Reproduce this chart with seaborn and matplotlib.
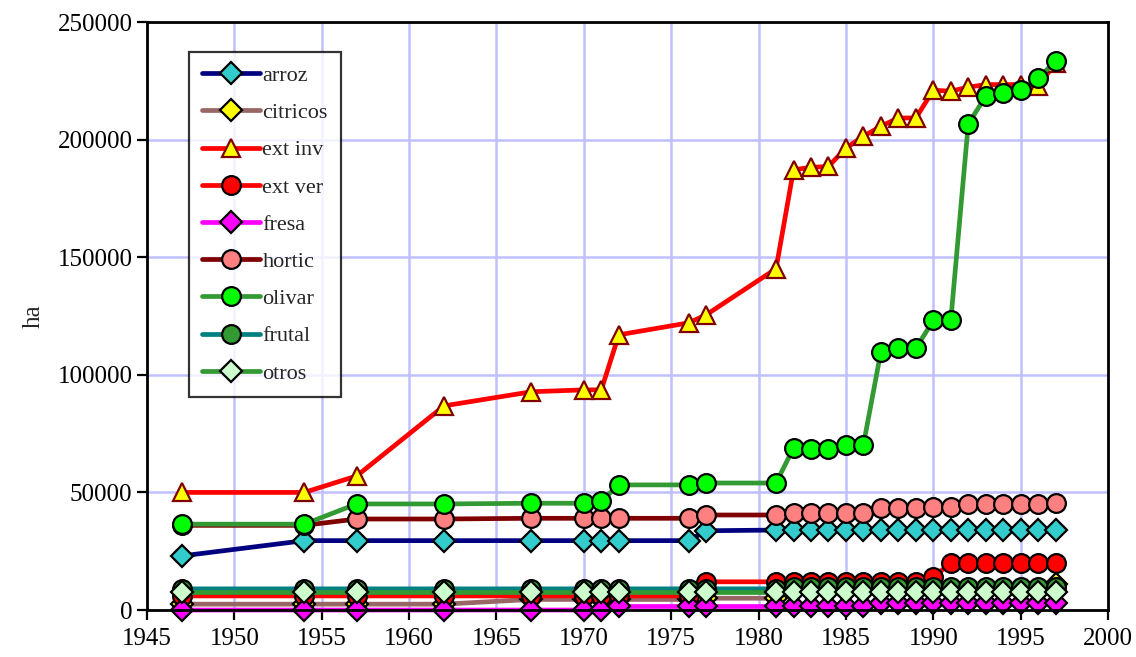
import seaborn as sns
import matplotlib.pyplot as plt

years = [1947, 1954, 1957, 1962, 1967, 1970, 1971, 1972, 1976, 1977, 1981,
         1982, 1983, 1984, 1985, 1986, 1987, 1988, 1989, 1990, 1991, 1992,
         1993, 1994, 1995, 1996, 1997]

arroz = [23000, 29500, 29500, 29500, 29500, 29500, 29500, 29500, 29500, 33700, 34000,
         34000, 34000, 34000, 34000, 34000, 34000, 34000, 34000, 34000, 34000, 34000,
         34000, 34000, 34000, 34000, 34000]
citricos = [2500, 2500, 2500, 2500, 4500, 4500, 4500, 4500, 4500, 5000, 5000,
            8000, 8000, 8000, 8000, 8000, 8000, 8000, 8000, 8000, 8000, 8000,
            8000, 8000, 8000, 8000, 11000]
ext_inv = [50000, 50000, 57000, 86800, 92800, 93600, 93600, 117000, 122100, 125500, 145100,
           187200, 188200, 188600, 196400, 201400, 205700, 209200, 209200, 221000, 220600, 222300,
           223400, 223400, 223400, 222800, 232600]
ext_ver = [6000, 6000, 6000, 6000, 6000, 6000, 6000, 6000, 6000, 12000, 12000,
           12000, 12000, 12000, 12000, 12000, 12000, 12000, 12000, 14000, 20000, 20000,
           20000, 20000, 20000, 20000, 20000]
fresa = [0, 0, 0, 0, 0, 0, 0, 1500, 1500, 1500, 1500,
         1500, 1500, 1500, 1500, 1500, 3000, 3000, 3000, 3000, 3000, 3000,
         3000, 3000, 3000, 3000, 3000]
hortic = [36000, 36000, 38700, 38700, 39000, 39000, 39000, 39000, 39000, 40400, 40400,
          41400, 41400, 41400, 41400, 41400, 43300, 43300, 43300, 43700, 43700, 45100,
          45100, 45100, 45100, 45100, 45400]
olivar = [36500, 36500, 45100, 45100, 45400, 45400, 46400, 53200, 53200, 54000, 54000,
          68900, 68400, 68400, 70200, 70200, 109900, 111300, 111300, 123100, 123100, 206700,
          218400, 219800, 221300, 226200, 233300]
frutal = [9000, 9000, 9000, 9000, 9000, 9000, 9000, 9000, 9000, 9000, 9000,
          10000, 10000, 10000, 10000, 10000, 10000, 10000, 10000, 10000, 10000, 10000,
          10000, 10000, 10000, 10000, 10000]
otros = [7500, 7500, 7500, 7500, 7500, 7500, 7500, 7500, 7500, 7500, 7500,
         7500, 7500, 7500, 7500, 7500, 7500, 7500, 7500, 7500, 7500, 7500,
         7500, 7500, 7500, 7500, 7500]

# name, values, line colour, marker, marker fill, marker edge
series = [
    ("arroz", arroz, "#000080", "D", "#33cccc", "black"),
    ("citricos", citricos, "#996666", "D", "#ffff00", "black"),
    ("ext inv", ext_inv, "#ff0000", "^", "#ffff00", "#800000"),
    ("ext ver", ext_ver, "#ff0000", "o", "#ff0000", "black"),
    ("fresa", fresa, "#ff00ff", "D", "#ff00ff", "black"),
    ("hortic", hortic, "#800000", "o", "#ff8080", "black"),
    ("olivar", olivar, "#339933", "o", "#00ff00", "black"),
    ("frutal", frutal, "#008080", "o", "#339933", "black"),
    ("otros", otros, "#339933", "D", "#ccffcc", "black"),
]

sns.set_style("white")
plt.rcParams['font.family'] = ['Liberation Serif', 'DejaVu Serif']

fig = plt.figure(figsize=(11.36, 6.57), dpi=100)
ax = fig.add_axes([0.1294, 0.0715, 0.8460, 0.8950])

for name, vals, lc, mk, mfc, mec in series:
    size = 11 if mk == "D" else 13.5
    sns.lineplot(x=years, y=vals, ax=ax, color=lc, linewidth=3.4, marker=mk,
                 markersize=size, markerfacecolor=mfc, markeredgecolor=mec,
                 markeredgewidth=1.6, label=name, clip_on=False)

ax.set_xlim(1945, 2000)
ax.set_ylim(0, 250000)
ax.set_xticks(range(1945, 2001, 5))
ax.set_yticks(range(0, 250001, 50000))
ax.grid(True, color="#c0c0ff", linewidth=1.8)
ax.set_axisbelow(True)
for sp in ax.spines.values():
    sp.set_color("black")
    sp.set_linewidth(2)
ax.tick_params(axis="both", direction="out", length=7, width=1.6, colors="black",
               labelsize=18, left=True, bottom=True)
ax.tick_params(axis="x", pad=6)
ax.set_ylabel("ha", fontsize=18, labelpad=9)
ax.set_xlabel("")

leg = ax.legend(loc="upper left", bbox_to_anchor=(0.0437, 0.949), borderaxespad=0,
                fontsize=16, frameon=True, fancybox=False, edgecolor="black",
                handlelength=2.6, handletextpad=0.1, labelspacing=0.75,
                borderpad=0.6)
leg.get_frame().set_linewidth(1.6)

fig.savefig("out.png", dpi=100)
